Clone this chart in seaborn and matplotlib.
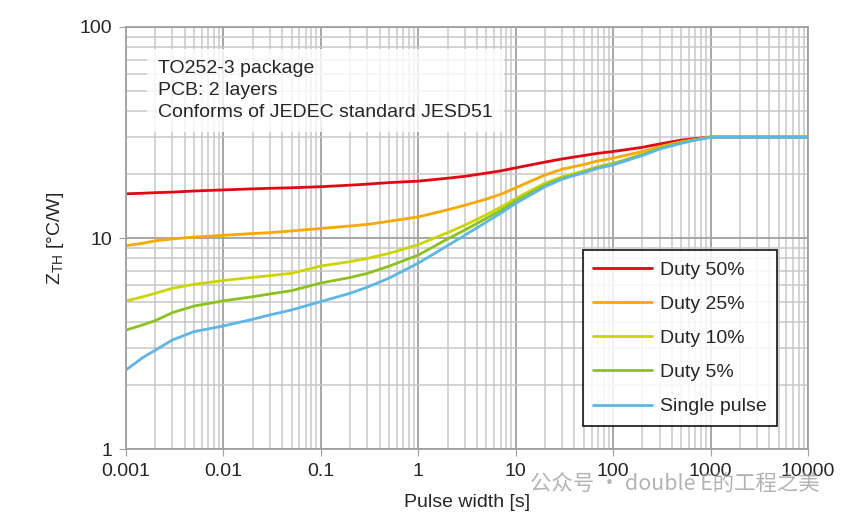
import matplotlib
matplotlib.use("Agg")
import matplotlib.pyplot as plt
import matplotlib.ticker as mticker
import seaborn as sns
import pandas as pd

pulse_width = [0.001, 0.0015, 0.002, 0.003, 0.005, 0.01, 0.02, 0.03, 0.05, 0.1,
               0.2, 0.3, 0.5, 1, 2, 3, 5, 7, 10, 20, 30, 50, 70, 100,
               200, 300, 500, 700, 1000, 10000]
duty_50 = [16.2, 16.3, 16.4, 16.5, 16.7, 16.9, 17.1, 17.2, 17.3, 17.5,
           17.8, 18.0, 18.3, 18.6, 19.2, 19.6, 20.3, 20.8, 21.5, 22.9, 23.7, 24.6, 25.2, 25.7,
           26.9, 27.9, 29.1, 29.6, 30.1, 30.1]
duty_25 = [9.2, 9.45, 9.7, 9.9, 10.1, 10.3, 10.5, 10.6, 10.8, 11.1,
           11.4, 11.6, 12.0, 12.6, 13.6, 14.3, 15.3, 16.1, 17.3, 19.9, 21.2, 22.3, 23.2, 23.9,
           25.7, 27.1, 28.6, 29.3, 30.1, 30.1]
duty_10 = [5.03, 5.27, 5.47, 5.78, 6.03, 6.29, 6.51, 6.63, 6.80, 7.37,
           7.73, 8.0, 8.45, 9.3, 10.6, 11.5, 12.9, 14.0, 15.4, 18.2, 19.5, 20.8, 21.8, 22.6,
           24.9, 26.7, 28.3, 29.2, 30.1, 30.1]
duty_5 = [3.66, 3.88, 4.06, 4.43, 4.76, 5.04, 5.27, 5.43, 5.63, 6.12,
          6.5, 6.8, 7.35, 8.3, 9.9, 10.9, 12.4, 13.5, 15.0, 17.8, 19.2, 20.5, 21.6, 22.4,
          24.8, 26.6, 28.3, 29.2, 30.1, 30.1]
single = [2.37, 2.72, 2.94, 3.29, 3.60, 3.83, 4.12, 4.32, 4.56, 5.0,
          5.47, 5.85, 6.45, 7.6, 9.2, 10.3, 11.9, 13.1, 14.6, 17.5, 19.0, 20.4, 21.4, 22.2,
          24.6, 26.4, 28.1, 29.1, 30.0, 30.0]

labels = ["Duty 50%", "Duty 25%", "Duty 10%", "Duty 5%", "Single pulse"]
colors = ["#e30613", "#f9a800", "#cdd500", "#8cc21e", "#5cb6e8"]

rows = []
for lab, vals in zip(labels, [duty_50, duty_25, duty_10, duty_5, single]):
    for x, y in zip(pulse_width, vals):
        rows.append({"t": x, "z": y, "curve": lab})
df = pd.DataFrame(rows)

sns.set_style("white")
plt.rcParams['font.family'] = ['Liberation Sans', 'DejaVu Sans']

fig = plt.figure(figsize=(8.48, 5.17), dpi=100)
ax = fig.add_axes([0.1486, 0.1315, 0.8042, 0.8163])

sns.lineplot(data=df, x="t", y="z", hue="curve", hue_order=labels,
             palette=colors, linewidth=2, ax=ax, estimator=None, sort=False)

ax.set_xscale("log")
ax.set_yscale("log")
ax.set_xlim(0.001, 10000)
ax.set_ylim(1, 100)

ax.grid(True, which="major", color="#a0a0a0", linewidth=1.3)
ax.grid(True, which="minor", color="#c8c8c8", linewidth=1.1)
ax.set_axisbelow(True)
ax.xaxis.set_minor_locator(mticker.LogLocator(base=10, subs=range(2, 10), numticks=20))
ax.yaxis.set_minor_locator(mticker.LogLocator(base=10, subs=range(2, 10), numticks=20))
ax.xaxis.set_major_locator(mticker.LogLocator(base=10, numticks=20))
fmt = mticker.FuncFormatter(lambda v, p: "{:g}".format(v))
ax.xaxis.set_major_formatter(fmt)
ax.yaxis.set_major_formatter(fmt)
ax.xaxis.set_minor_formatter(mticker.NullFormatter())
ax.yaxis.set_minor_formatter(mticker.NullFormatter())

ax.tick_params(axis="both", which="major", labelsize=14, length=5,
               color="#a0a0a0", direction="out", pad=5)
ax.tick_params(axis="x", which="minor", length=0)
ax.tick_params(axis="y", which="minor", length=3, color="#c8c8c8")
ax.tick_params(axis="x", which="major", bottom=True)
ax.tick_params(axis="y", which="major", left=True)
for s in ax.spines.values():
    s.set_color("#a0a0a0")
    s.set_linewidth(1.3)

ax.set_xlabel("Pulse width [s]", fontsize=14, labelpad=10)
ax.set_ylabel(r"Z$_\mathregular{TH}$ [°C/W]", fontsize=14, labelpad=10)

ax.text(0.047, 0.921,
        "TO252-3 package\nPCB: 2 layers\nConforms of JEDEC standard JESD51",
        transform=ax.transAxes, fontsize=14, va="top", ha="left",
        linespacing=1.38,
        bbox=dict(facecolor="white", edgecolor="none", alpha=0.8, pad=8))

leg = ax.legend(loc="lower right", bbox_to_anchor=(0.9545, 0.0545),
                borderaxespad=0, fontsize=14,
                frameon=True, fancybox=False, edgecolor="black",
                framealpha=0.85, handlelength=3.0, labelspacing=0.85,
                borderpad=0.55, handletextpad=0.4)
leg.get_frame().set_linewidth(1.3)

fig.text(0.625, 0.064, "公众号 · double E的工程之美", fontsize=15.4,
         color="#9a9a9a", alpha=0.75, va="center",
         family=["Noto Sans CJK SC", "DejaVu Sans"])

fig.savefig("out.png", dpi=100)
